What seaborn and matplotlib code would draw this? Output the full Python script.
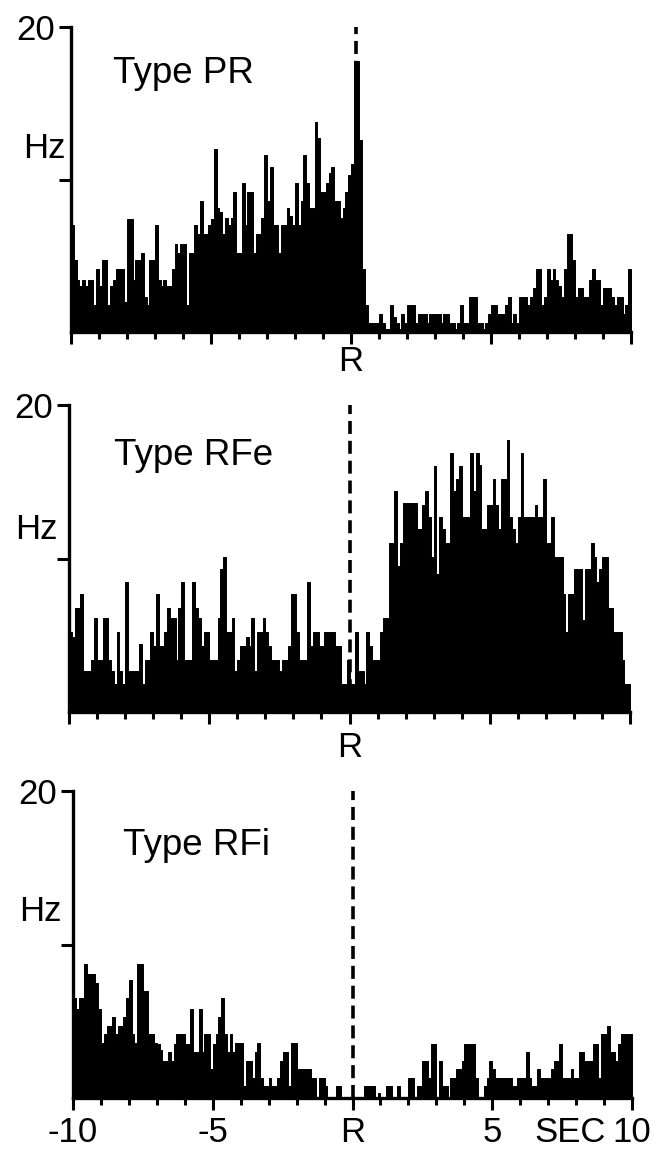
import numpy as np
import pandas as pd
import matplotlib
matplotlib.use("Agg")
import matplotlib.pyplot as plt
import seaborn as sns

# ---------------- data (Hz per 0.1 s bin, -10 s .. +10 s) ----------------
bin_edges = np.linspace(-10, 10, 201)
time_centers = np.round(bin_edges[:-1] + 0.05, 3)

pr_rate = [
    7.0, 4.7, 3.4, 3.0, 3.4, 3.0, 3.4, 3.4, 1.8, 4.1,
    3.0, 4.7, 4.7, 1.8, 3.0, 3.4, 4.1, 4.1, 4.1, 2.0,
    7.4, 7.4, 3.4, 4.7, 4.7, 5.2, 2.3, 1.8, 4.7, 4.7,
    7.0, 3.4, 3.0, 3.4, 3.0, 3.0, 4.1, 5.8, 5.2, 5.8,
    5.8, 1.8, 5.2, 5.2, 7.0, 6.4, 8.6, 6.4, 6.4, 7.0,
    7.4, 12.0, 8.1, 7.9, 6.4, 7.5, 7.0, 7.5, 9.2, 5.2,
    5.2, 9.8, 7.0, 9.2, 9.2, 5.2, 6.4, 6.4, 7.5, 11.6,
    8.6, 10.8, 7.0, 7.0, 5.2, 7.0, 7.0, 8.1, 7.6, 7.0,
    9.8, 7.0, 8.6, 11.6, 9.8, 8.1, 8.1, 13.8, 12.7, 9.2,
    9.2, 9.8, 10.4, 10.8, 8.6, 8.6, 7.5, 8.1, 9.2, 10.3,
    11.0, 17.8, 17.8, 12.6, 4.1, 1.8, 0.6, 0.6, 0.6, 0.6,
    1.2, 0.6, 0.2, 0.2, 1.8, 1.0, 0.6, 0.2, 1.2, 0.6,
    1.8, 1.8, 1.8, 0.6, 1.2, 1.2, 1.2, 0.6, 1.2, 1.2,
    1.2, 1.2, 0.6, 1.2, 1.2, 0.6, 0.6, 0.2, 0.6, 1.8,
    0.6, 0.6, 2.3, 2.3, 2.3, 0.6, 0.6, 0.2, 0.6, 1.2,
    1.8, 1.8, 1.2, 1.2, 1.2, 1.8, 2.3, 0.6, 1.2, 0.6,
    2.3, 2.3, 2.3, 1.8, 2.3, 2.9, 4.1, 4.1, 1.8, 2.3,
    4.1, 3.4, 4.1, 3.4, 3.0, 2.3, 4.1, 6.4, 6.4, 4.7,
    2.3, 2.9, 2.9, 2.3, 2.3, 3.4, 4.1, 3.4, 3.4, 1.8,
    2.9, 2.9, 2.9, 2.3, 1.8, 2.3, 2.3, 1.2, 1.8, 4.1,
]

rfe_rate = [
    5.2, 4.9, 6.8, 6.8, 7.7, 2.7, 2.7, 2.7, 3.4, 6.1,
    3.4, 3.4, 6.1, 6.1, 3.4, 2.7, 1.8, 5.2, 2.7, 1.8,
    8.5, 2.7, 2.7, 2.7, 2.7, 4.4, 1.8, 3.4, 3.4, 5.2,
    4.3, 7.7, 4.3, 4.3, 5.2, 6.8, 6.1, 6.1, 3.4, 6.8,
    8.5, 3.4, 3.4, 3.4, 8.5, 6.8, 6.1, 4.3, 5.2, 5.2,
    3.4, 3.4, 3.4, 6.1, 9.3, 10.1, 5.2, 5.2, 6.1, 2.7,
    3.4, 4.3, 4.3, 4.9, 4.3, 6.1, 2.7, 5.2, 5.2, 6.1,
    5.2, 4.3, 3.4, 3.4, 3.4, 2.7, 3.4, 3.4, 4.3, 7.7,
    7.7, 5.2, 3.4, 3.4, 3.4, 8.5, 4.3, 5.2, 5.2, 4.3,
    4.3, 5.2, 5.2, 5.2, 5.2, 4.3, 4.3, 1.8, 1.8, 3.4,
    1.8, 1.8, 5.2, 2.7, 2.7, 1.8, 5.2, 4.3, 3.4, 3.4,
    3.4, 5.2, 6.1, 6.1, 11.0, 11.0, 14.4, 9.5, 11.0, 13.6,
    13.6, 13.6, 13.6, 13.6, 11.9, 11.9, 13.5, 14.4, 12.7, 10.1,
    16.0, 9.0, 12.7, 11.9, 11.0, 11.0, 16.9, 14.4, 15.2, 16.0,
    12.7, 12.7, 12.7, 16.9, 14.4, 16.9, 16.1, 11.9, 11.9, 13.5,
    13.5, 15.2, 13.5, 11.9, 15.2, 15.2, 17.7, 12.7, 11.9, 11.0,
    12.7, 16.9, 12.7, 12.7, 12.7, 12.7, 13.5, 12.7, 12.7, 15.2,
    11.0, 11.0, 12.7, 10.1, 10.1, 10.1, 7.7, 5.2, 7.7, 7.7,
    9.3, 9.3, 9.3, 6.0, 9.3, 9.3, 11.0, 10.1, 8.5, 9.3,
    10.1, 10.1, 6.8, 6.8, 5.2, 5.2, 5.2, 3.4, 1.8, 1.8,
]

rfi_rate = [
    6.5, 5.8, 6.5, 6.5, 8.7, 8.1, 8.1, 8.1, 7.5, 5.8,
    3.6, 4.2, 4.7, 4.7, 5.3, 4.2, 4.7, 4.7, 5.3, 6.5,
    7.7, 4.2, 3.6, 8.7, 8.7, 7.0, 7.0, 4.2, 4.2, 3.6,
    3.5, 3.1, 2.4, 2.4, 3.0, 2.4, 3.5, 4.2, 4.2, 4.2,
    3.5, 3.5, 5.8, 3.0, 3.0, 5.8, 3.0, 4.2, 4.2, 1.9,
    3.5, 4.2, 5.3, 6.5, 4.2, 3.0, 4.2, 3.0, 3.6, 3.6,
    3.6, 0.8, 2.4, 2.4, 1.3, 3.0, 3.6, 1.3, 0.8, 0.8,
    1.3, 0.8, 0.8, 1.3, 2.4, 3.0, 3.0, 0.8, 3.6, 3.6,
    1.9, 1.9, 1.9, 1.9, 1.9, 1.3, 1.3, 0.0, 1.3, 1.3,
    0.8, 0.0, 0.0, 0.0, 0.8, 0.8, 0.0, 0.0, 0.0, 0.0,
    0.0, 0.0, 0.0, 0.0, 0.8, 0.8, 0.8, 0.8, 0.0, 0.3,
    0.0, 0.0, 0.8, 0.8, 0.0, 0.0, 0.8, 0.0, 0.0, 0.0,
    1.3, 1.3, 0.0, 0.8, 0.8, 2.4, 2.4, 1.3, 3.5, 3.5,
    0.0, 2.4, 0.8, 0.8, 0.0, 1.3, 1.3, 1.9, 1.9, 2.4,
    3.5, 3.5, 3.5, 3.5, 1.3, 0.0, 0.0, 0.8, 1.3, 2.4,
    1.9, 1.3, 1.3, 1.3, 1.3, 1.3, 1.3, 0.8, 0.8, 1.3,
    1.3, 1.3, 3.0, 1.3, 0.8, 0.8, 1.9, 1.3, 1.3, 1.3,
    1.3, 1.9, 2.4, 2.4, 3.5, 1.3, 1.3, 1.3, 1.9, 1.3,
    1.3, 3.0, 3.0, 2.4, 2.4, 2.4, 3.5, 3.5, 1.3, 4.2,
    4.2, 4.7, 3.0, 3.0, 2.4, 3.5, 4.2, 4.2, 4.2, 4.2,
]

panel_titles = ["Type PR", "Type RFe", "Type RFi"]
panel_rates = [pr_rate, rfe_rate, rfi_rate]
event_times = [0.18, 0.0, 0.0]
major_ticks = [-10, -5, 0, 5, 10]
minor_ticks = list(range(-10, 11))
bottom_labels = ["-10", "-5", "R", "5", "10"]
upper_labels = ["", "", "R", "", ""]

# ---------------- figure ----------------
sns.set_theme(style="ticks")
plt.rcParams["font.family"] = ["Liberation Sans", "DejaVu Sans"]

W, H = 662, 1149
fig = plt.figure(figsize=(W / 100, H / 100), dpi=100)

# axes boxes in pixels: (x of -10, x of +10, y of 20 Hz, y of 0 Hz)
boxes = [(71, 631, 27, 332), (69, 630, 405, 712), (73, 632, 791, 1098)]
xpads = [1.0, 5, 4]
title_pos = [(-8.5, 16.3), (-8.4, 16.1), (-8.2, 15.8)]
hz_pos = [(-10.2, 11.4), (-10.4, 11.3), (-10.4, 11.5)]

FS = 25
for i, (x0, x1, yt, yb) in enumerate(boxes):
    ax = fig.add_axes([x0 / W, 1 - yb / H, (x1 - x0) / W, (yb - yt) / H])
    df = pd.DataFrame({"time": time_centers, "rate": np.asarray(panel_rates[i], dtype=float)})
    sns.histplot(data=df, x="time", weights="rate", binwidth=0.1,
                 binrange=(-10, 10), element="step", fill=True,
                 color="black", alpha=1, linewidth=0.7, ax=ax)
    ax.vlines(event_times[i], 0, 20, colors="black", linewidth=2.6,
              linestyles=(0, (3.6, 1.9)), zorder=5)
    ax.set_xlim(-10, 10)
    ax.set_ylim(0, 20)
    ax.set_xlabel("")
    ax.set_ylabel("")
    for s in ["top", "right"]:
        ax.spines[s].set_visible(False)
    for s in ["left", "bottom"]:
        ax.spines[s].set_linewidth(2.4)
        ax.spines[s].set_color("black")
    ax.set_yticks([10, 20])
    ax.set_yticklabels(["", "20"], fontsize=FS)
    ax.set_xticks(major_ticks)
    ax.set_xticklabels(bottom_labels if i == 2 else upper_labels, fontsize=FS)
    ax.set_xticks(minor_ticks, minor=True)
    ax.tick_params(axis="both", which="major", direction="out", length=8.6,
                   width=2.2, color="black", labelcolor="black")
    ax.tick_params(axis="x", which="minor", direction="out", length=5,
                   width=2.2, color="black")
    ax.tick_params(axis="x", which="major", pad=xpads[i])
    ax.tick_params(axis="y", which="major", pad=3)
    ax.text(title_pos[i][0], title_pos[i][1], panel_titles[i], fontsize=26.5,
            ha="left", va="baseline", color="black")
    ax.text(hz_pos[i][0], hz_pos[i][1], "Hz", fontsize=FS, ha="right",
            va="baseline", color="black", clip_on=False)
    if i == 2:
        ax.text(7.8, -(8.6 + xpads[i]) / 0.72 / 15.35, "SEC", fontsize=FS,
                ha="center", va="top", color="black", clip_on=False)

fig.savefig("out.png", dpi=100, facecolor="white")
